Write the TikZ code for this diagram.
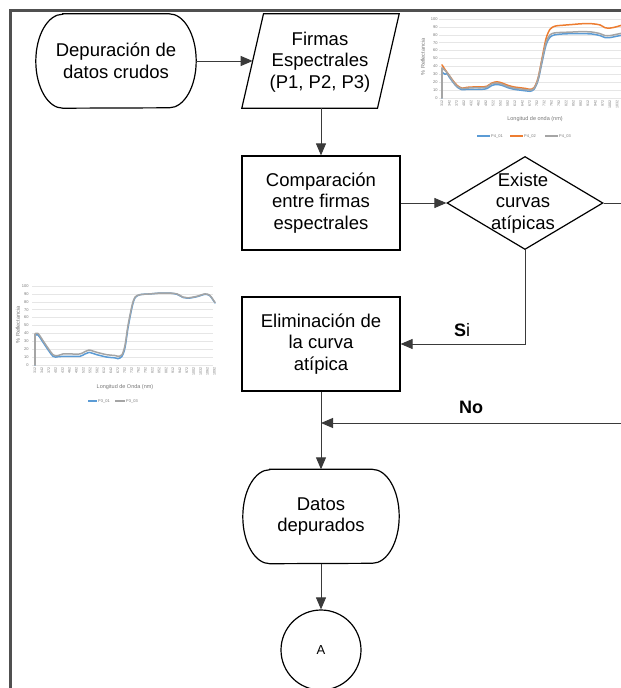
\documentclass[tikz,border=0pt]{standalone}
\usepackage{fontspec}
\setmainfont{Liberation Sans}
\usetikzlibrary{arrows.meta,shapes.geometric}
\definecolor{framegray}{HTML}{505050}
\definecolor{conngray}{HTML}{3A3A3A}
\definecolor{gridgray}{HTML}{E6E6E6}
\definecolor{axisgray}{HTML}{767676}
\definecolor{cblue}{HTML}{5B9BD5}
\definecolor{corange}{HTML}{ED7D31}
\definecolor{cgray}{HTML}{A5A5A5}
\newcommand{\drawterminal}[1]{%
  \draw[shapeline] ([xshift=27pt]#1.north west) -- ([xshift=-27pt]#1.north east)
    arc[start angle=90,end angle=-90,x radius=27pt,y radius=47pt]
    -- ([xshift=27pt]#1.south west)
    arc[start angle=270,end angle=90,x radius=27pt,y radius=47pt] -- cycle;}
\begin{document}
\begin{tikzpicture}[x=1pt,y=-1pt,
  font=\fontsize{18.5}{21.5}\selectfont,
  shapeline/.style={draw=black, line width=1.2pt},
  txt/.style={align=center, inner sep=0pt},
  termnode/.style={minimum width=160pt, minimum height=94pt, inner sep=0pt, align=center},
  procbox/.style={shapeline, minimum width=158pt, minimum height=94pt, inner sep=0pt, align=center},
  conn/.style={draw=conngray, line width=1pt, -{Triangle[length=12pt,width=10pt]}},
  plainline/.style={draw=conngray, line width=1pt},
  gridln/.style={draw=gridgray, line width=0.6pt},
  ylbl/.style={anchor=east, font=\fontsize{4}{4.5}\selectfont, text=axisgray, inner sep=0.3pt},
  xlbl/.style={rotate=90, anchor=east, font=\fontsize{3.6}{4}\selectfont, text=axisgray, inner sep=0.3pt},
  ctitle/.style={font=\fontsize{5.5}{6}\selectfont, text=axisgray, inner sep=0pt},
  legtxt/.style={anchor=west, font=\fontsize{4}{4.5}\selectfont, text=axisgray, inner sep=0.5pt},
  curve/.style={line width=1.5pt, line join=round, line cap=round}
]
\clip (0,0) rectangle (621,688);

% frame
\draw[framegray, line width=2.4pt] (10.5,692) -- (10.5,10.5) -- (625,10.5);

% ---------- chart 1 (top right) ----------
\begin{scope}[shift={(442,98)}, yscale=-0.79]
  \foreach \v in {0,10,...,100} {
    \draw[gridln] (-3,\v) -- (185,\v);
    \node[ylbl] (c1y\v) at (-4,\v) {\v};
  }
  \foreach \k in {0,...,24} {
    \pgfmathtruncatemacro{\lam}{312+30*\k}
    \node[xlbl] (c1x\k) at ({7.3*\k},-2.5) {\lam};
  }
  \draw[cblue, curve] (0,0) -- (0,33);
  \draw[cblue, curve] plot[smooth, tension=0.5] coordinates {(0,33) (3,30) (5,31) (7,27) (11,20) (15,14) (20,10.5) (25,11) (32,11) (40,11) (45,12) (50,16) (55,17) (60,16) (66,13) (72,11) (78,10) (84,9) (88,8.5) (92,11) (96,22) (100,45) (104,67) (108,77) (113,80) (120,81) (130,81.5) (140,81.5) (150,81) (158,79) (163,76.5) (168,76.5) (174,78) (182,80) (186,81) (190,80)};
  \draw[corange, curve] plot[smooth, tension=0.5] coordinates {(0,42) (3,36) (7,29) (11,22) (15,16) (20,12.5) (25,13.5) (32,14) (40,14) (45,15) (50,19) (55,20.5) (60,19) (66,16) (72,14) (78,13) (84,12) (88,11) (92,13) (96,25) (100,50) (104,75) (108,87) (113,91) (120,92) (130,93) (140,94) (150,94) (158,92.5) (163,89) (168,88.5) (174,90) (182,93) (186,94) (190,92)};
  \draw[cgray, curve] (0,0) -- (0,38);
  \draw[cgray, curve] plot[smooth, tension=0.5] coordinates {(0,38) (3,35) (7,29) (11,21) (15,15) (20,12) (25,12.5) (32,13) (40,13) (45,14) (50,18) (55,19) (60,17.5) (66,14.5) (72,12.5) (78,11.5) (84,10.5) (88,10) (92,12) (96,24) (100,48) (104,70) (108,80) (113,82.5) (120,83) (130,83.5) (140,84) (150,83.5) (158,81.5) (163,79) (168,79) (174,80.5) (182,82.5) (186,83) (190,82)};
\end{scope}
\node[ctitle, rotate=90] (c1yt) at (423,57) {\% Reflectancia};
\node[ctitle] (c1xt) at (535,119) {Longitud de onda (nm)};
\draw[cblue, line width=1.5pt] (477,136) -- (490,136);
\node[legtxt] (c1l1) at (490.5,136) {P4\_01};
\draw[corange, line width=1.5pt] (510,136) -- (523,136);
\node[legtxt] (c1l2) at (523.5,136) {P4\_02};
\draw[cgray, line width=1.5pt] (545,136) -- (558,136);
\node[legtxt] (c1l3) at (558.5,136) {P4\_03};

% ---------- chart 2 (left) ----------
\begin{scope}[shift={(35,365)}, yscale=-0.79]
  \foreach \v in {0,10,...,100} {
    \draw[gridln] (-3,\v) -- (178,\v);
    \node[ylbl] (c2y\v) at (-6,\v) {\v};
  }
  \foreach \k in {0,...,26} {
    \pgfmathtruncatemacro{\lam}{312+30*\k}
    \node[xlbl] (c2x\k) at ({6.9*\k},-2.5) {\lam};
  }
  \draw[cblue, curve] (0,0) -- (0,37);
  \draw[cblue, curve] plot[smooth, tension=0.5] coordinates {(0,37) (3,38) (10,25) (18,11) (23,10.5) (28,11) (35,11) (45,11) (50,14) (54,16) (62,13) (72,10) (80,9) (83,8) (87,11) (90,22) (93,47) (97,73) (100,85) (105,89) (115,90) (125,91) (135,91) (142,89.5) (148,85.5) (153,84.5) (162,86.5) (170,89.5) (175,87.5) (180,78.5)};
  \draw[cgray, curve] (0,0) -- (0,39);
  \draw[cgray, curve] plot[smooth, tension=0.5] coordinates {(0,39) (3,40) (10,27) (18,13) (23,12) (28,14) (35,14) (45,14) (50,17) (54,19) (62,16) (72,13) (80,12) (83,11) (87,13) (90,25) (93,50) (97,75) (100,86) (105,89) (115,90) (125,91) (135,91) (142,90) (148,86) (153,85) (162,87) (170,90) (175,88) (180,79)};
\end{scope}
\node[ctitle, rotate=90] (c2yt) at (18,325) {\% Reflectancia};
\node[ctitle] (c2xt) at (125,387) {Longitud de Onda (nm)};
\draw[cblue, line width=1.5pt] (88,401) -- (97,401);
\node[legtxt] (c2l1) at (97.5,401) {P3\_01};
\draw[cgray, line width=1.5pt] (115,401) -- (125,401);
\node[legtxt] (c2l2) at (125.5,401) {P3\_03};

% ---------- flowchart ----------
\node[termnode] (t1) at (116,61) {Depuración de\\datos crudos};
\drawterminal{t1}
\node[minimum width=157pt, minimum height=94pt, inner sep=0pt] (par) at (320.5,61) {};
\draw[shapeline] ([xshift=21.7pt]par.north west) -- (par.north east)
  -- ([xshift=-21.7pt]par.south east) -- (par.south west) -- cycle;
\coordinate (parW) at ([xshift=10.85pt]par.west);
\node[txt] (parT) at (320,62) {Firmas\\Espectrales\\(P1, P2, P3)};
\node[procbox] (comp) at (321,203) {Comparación\\entre firmas\\espectrales};
\node[diamond, shapeline, minimum width=156pt, minimum height=93pt, inner sep=0pt] (dia) at (525,203) {};
\node[txt] (diaT) at (523,203) {Existe\\curvas\\atípicas};
\node[procbox] (elim) at (321,344) {Eliminación de\\la curva\\atípica};
\node[termnode, minimum width=156pt] (dat) at (321,516.5) {Datos\\depurados};
\drawterminal{dat}
\node[circle, shapeline, minimum size=80pt, inner sep=0pt, font=\fontsize{13}{15}\selectfont] (cA) at (321,650) {A};

\draw[conn] (t1.east) -- (parW);
\draw[conn] (comp.north |- par.south) -- (comp.north);
\draw[conn] (comp.east) -- (dia.west);
\coordinate (diaR) at (625,203);
\draw[plainline] (dia.east) -- (diaR);
\draw[conn] (dia.south) |- (elim.east);
\draw[conn] (elim.south) -- (dat.north);
\coordinate (noR) at (625,423);
\coordinate (noJ) at (elim.south |- noR);
\draw[conn] (noR) -- (noJ);
\draw[conn] (dat.south) -- (cA.north);

\node[font=\fontsize{18}{20}\selectfont] (siL) at (462,330) {\textbf{S}i};
\node[font=\fontsize{18}{20}\selectfont\bfseries] (noL) at (471,407) {No};
\end{tikzpicture}
\end{document}
